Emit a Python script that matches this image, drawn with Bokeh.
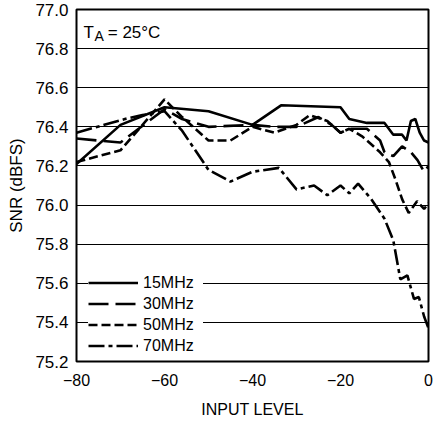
from bokeh.plotting import figure
from bokeh.models import Legend, LegendItem, FixedTicker, Label, PrintfTickFormatter, Range1d
from bokeh.embed import file_html
from bokeh.resources import INLINE

# ---- data ----
x15 = [-80, -70, -60, -50, -40, -33.5, -20, -18, -14, -10, -8, -6, -5, -4, -3, -2, -1, 0]
y15 = [76.21, 76.41, 76.50, 76.48, 76.41, 76.51, 76.50, 76.44, 76.42, 76.42, 76.36, 76.36,
       76.33, 76.43, 76.44, 76.37, 76.33, 76.32]

x30 = [-80, -70, -60, -56, -50, -40, -35, -30, -25, -22, -20, -18, -14, -11, -10, -8, -6,
       -4, -2.5, -1, 0]
y30 = [76.34, 76.32, 76.49, 76.44, 76.40, 76.41, 76.40, 76.40, 76.45, 76.41, 76.37, 76.39,
       76.39, 76.33, 76.27, 76.25, 76.30, 76.27, 76.23, 76.17, 76.20]

x50 = [-80, -70, -60, -56, -50, -45, -40, -35, -30, -27, -23, -20, -18, -15, -11, -9, -7.5,
       -6, -4.5, -2.6, -1, 0]
y50 = [76.22, 76.28, 76.54, 76.45, 76.33, 76.33, 76.40, 76.37, 76.41, 76.46, 76.43, 76.37,
       76.39, 76.35, 76.27, 76.22, 76.13, 76.03, 75.96, 76.02, 75.98, 76.01]

x70 = [-80, -69, -65, -60, -56, -50, -45, -40, -34, -30, -26, -23, -20, -18, -16, -13, -10,
       -8, -6.4, -4.8, -3.3, -2.2, -1, 0]
y70 = [76.37, 76.44, 76.46, 76.48, 76.38, 76.18, 76.12, 76.17, 76.19, 76.08, 76.10, 76.05,
       76.10, 76.06, 76.11, 76.03, 75.93, 75.82, 75.62, 75.64, 75.52, 75.53, 75.43, 75.37]

series_names = ["15MHz", "30MHz", "50MHz", "70MHz"]
x_ticks = [-80, -60, -40, -20, 0]
x_tick_labels = ["\u221280", "\u221260", "\u221240", "\u221220", "0"]
y_ticks = [75.2, 75.4, 75.6, 75.8, 76.0, 76.2, 76.4, 76.6, 76.8, 77.0]

FONT = "Liberation Sans"

p = figure(width=435, height=421, output_backend="svg", toolbar_location=None,
           x_range=Range1d(-80, 0), y_range=Range1d(75.2, 77.0),
           min_border_left=76, min_border_right=7, min_border_top=9, min_border_bottom=60)

p.outline_line_color = "black"
p.outline_line_width = 2
p.background_fill_color = "white"

p.xgrid.grid_line_color = None
p.ygrid.grid_line_color = "black"
p.ygrid.grid_line_width = 1

p.xaxis.ticker = FixedTicker(ticks=x_ticks)
p.xaxis.major_label_overrides = {t: l for t, l in zip(x_ticks, x_tick_labels)}
p.yaxis.ticker = FixedTicker(ticks=y_ticks)
p.yaxis.formatter = PrintfTickFormatter(format="%.1f")

for ax in (p.xaxis[0], p.yaxis[0]):
    ax.axis_line_color = None
    ax.major_tick_line_color = None
    ax.minor_tick_line_color = None
    ax.major_tick_out = 0
    ax.major_tick_in = 0
    ax.major_label_text_font = FONT
    ax.major_label_text_color = "black"
    ax.axis_label_text_font = FONT
    ax.axis_label_text_font_style = "normal"
    ax.axis_label_text_color = "black"

p.xaxis.major_label_text_font_size = "16px"
p.yaxis.major_label_text_font_size = "17px"

p.xaxis.axis_label = "INPUT LEVEL"
p.xaxis.axis_label_text_font_size = "16px"
p.xaxis.major_label_standoff = 12
p.xaxis.axis_label_standoff = 12

p.yaxis.axis_label = "SNR (dBFS)"
p.yaxis.axis_label_text_font_size = "17px"
p.yaxis.major_label_standoff = 8
p.yaxis.axis_label_standoff = 6

lw = 2.6
r15 = p.line(x15, y15, line_color="black", line_width=lw)
r30 = p.line(x30, y30, line_color="black", line_width=lw, line_dash="20 7")
r50 = p.line(x50, y50, line_color="black", line_width=lw, line_dash="9 4")
r70 = p.line(x70, y70, line_color="black", line_width=lw, line_dash="16 4 4 4")

legend = Legend(items=[LegendItem(label=n, renderers=[r]) for n, r in
                       zip(series_names, [r15, r30, r50, r70])],
                location=(12, 5), orientation="vertical",
                padding=0, margin=0, spacing=0,
                glyph_width=50, glyph_height=21, label_height=21,
                label_width=60, label_standoff=5,
                label_text_font=FONT, label_text_font_size="16px",
                label_text_color="black",
                background_fill_color="white", background_fill_alpha=1.0,
                border_line_color=None)
p.add_layout(legend, "center")

# T_A = 25°C annotation
p.add_layout(Label(x=-78.4, y=76.883, text="T", text_font=FONT, text_font_size="17px",
                   text_baseline="alphabetic", text_color="black"))
p.add_layout(Label(x=-75.9, y=76.862, text="A", text_font=FONT, text_font_size="14px",
                   text_baseline="alphabetic", text_color="black"))
p.add_layout(Label(x=-72.9, y=76.883, text="= 25\u00b0C", text_font=FONT, text_font_size="17px",
                   text_baseline="alphabetic", text_color="black"))

open("out.html", "w").write(file_html(p, INLINE))
